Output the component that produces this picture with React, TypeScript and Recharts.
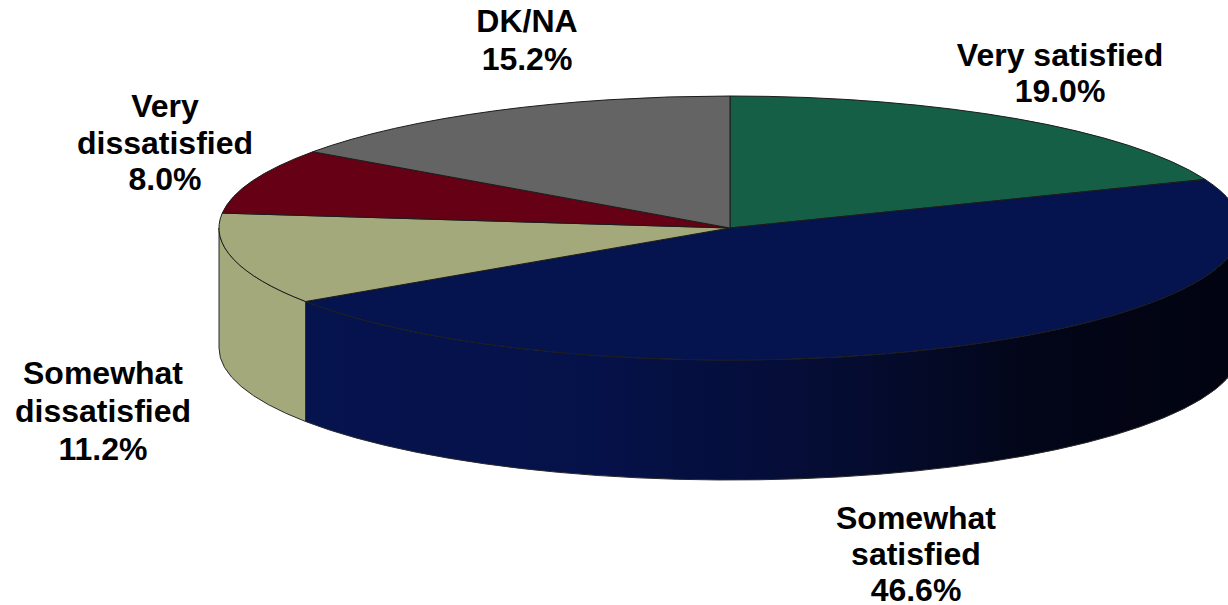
import { Pie, PieChart } from "recharts";

const CATEGORIES = [
  "Very satisfied",
  "Somewhat satisfied",
  "Somewhat dissatisfied",
  "Very dissatisfied",
  "DK/NA",
];
const VALUES = [19.0, 46.6, 11.2, 8.0, 15.2];
const LABEL_LINES = [
  ["Very satisfied"],
  ["Somewhat", "satisfied"],
  ["Somewhat", "dissatisfied"],
  ["Very", "dissatisfied"],
  ["DK/NA"],
];

const TOP_COLORS = ["#145F45", "#05134E", "#A3A97A", "#660014", "#646464"];
const WALL_COLORS = ["#145F45", "url(#navyWall)", "#A3A97A", "#660014", "#646464"];
// centre x, first baseline and line spacing of each label
const LABEL_POS = [
  { x: 1060, y: 66, lh: 36 },
  { x: 916, y: 529, lh: 36 },
  { x: 103, y: 384, lh: 38 },
  { x: 165, y: 117, lh: 36.5 },
  { x: 527, y: 32, lh: 38 },
];

const CX = 730;
const CY = 228;
const RX = 511;
const SQUASH = 132 / 511;
const DEPTH = 120;

const topData = CATEGORIES.map((name, i) => ({ name, value: VALUES[i], fill: TOP_COLORS[i] }));
const wallData = CATEGORIES.map((name, i) => ({ name, value: VALUES[i], fill: WALL_COLORS[i] }));

const rad = (a: number) => (a * Math.PI) / 180;

function pt(cx: number, cy: number, r: number, a: number) {
  return { x: cx + r * Math.cos(rad(a)), y: cy - r * SQUASH * Math.sin(rad(a)) };
}

function TopSlice(props: any) {
  const { cx, cy, outerRadius: r, startAngle, endAngle, fill } = props;
  const p1 = pt(cx, cy, r, startAngle);
  const p2 = pt(cx, cy, r, endAngle);
  const large = startAngle - endAngle > 180 ? 1 : 0;
  const d = `M${cx},${cy} L${p1.x},${p1.y} A${r},${r * SQUASH} 0 ${large} 1 ${p2.x},${p2.y} Z`;
  return <path d={d} fill={fill} stroke="#1c1c1c" strokeWidth={1} strokeLinejoin="round" />;
}

// side wall, only the part of the rim on the front half of the ellipse shows
function WallSlice(props: any) {
  const { cx, cy, outerRadius: r, startAngle, endAngle, fill } = props;
  const a1 = Math.min(startAngle, 0);
  const a2 = Math.max(endAngle, -180);
  if (a1 <= a2) return <g />;
  const p1 = pt(cx, cy, r, a1);
  const p2 = pt(cx, cy, r, a2);
  const ry = r * SQUASH;
  const d =
    `M${p1.x},${p1.y} A${r},${ry} 0 0 1 ${p2.x},${p2.y} ` +
    `L${p2.x},${p2.y + DEPTH} A${r},${ry} 0 0 0 ${p1.x},${p1.y + DEPTH} Z`;
  return <path d={d} fill={fill} stroke="#2a2a2a" strokeWidth={1} strokeLinejoin="round" />;
}

function SliceLabel(props: any) {
  const { index } = props;
  const pos = LABEL_POS[index];
  const lines = [...LABEL_LINES[index], `${VALUES[index].toFixed(1)}%`];
  return (
    <text
      x={pos.x}
      y={pos.y}
      textAnchor="middle"
      fontFamily="'Liberation Sans', Arial, sans-serif"
      fontWeight="bold"
      fontSize={32}
      fill="#000"
    >
      {lines.map((line, i) => (
        <tspan key={line} x={pos.x} y={pos.y + i * pos.lh}>
          {line}
        </tspan>
      ))}
    </text>
  );
}

export default function App() {
  return (
    <div style={{ width: 1228, height: 605, background: "#fff", overflow: "hidden" }}>
      <style>{`body{margin:0}`}</style>
      <PieChart width={1228} height={605} margin={{ top: 0, right: 0, bottom: 0, left: 0 }}>
        <defs>
          <linearGradient id="navyWall" gradientUnits="userSpaceOnUse" x1={305} y1={0} x2={1240} y2={0}>
            <stop offset="0%" stopColor="#05134E" />
            <stop offset="30%" stopColor="#05124A" />
            <stop offset="55%" stopColor="#050D35" />
            <stop offset="78%" stopColor="#030618" />
            <stop offset="100%" stopColor="#010311" />
          </linearGradient>
        </defs>
        <Pie
          data={wallData}
          dataKey="value"
          nameKey="name"
          cx={CX}
          cy={CY}
          innerRadius={0}
          outerRadius={RX}
          startAngle={90}
          endAngle={-270}
          shape={WallSlice}
          label={false}
          labelLine={false}
          isAnimationActive={false}
        />
        <Pie
          data={topData}
          dataKey="value"
          nameKey="name"
          cx={CX}
          cy={CY}
          innerRadius={0}
          outerRadius={RX}
          startAngle={90}
          endAngle={-270}
          shape={TopSlice}
          label={SliceLabel}
          labelLine={false}
          isAnimationActive={false}
        />
      </PieChart>
    </div>
  );
}
